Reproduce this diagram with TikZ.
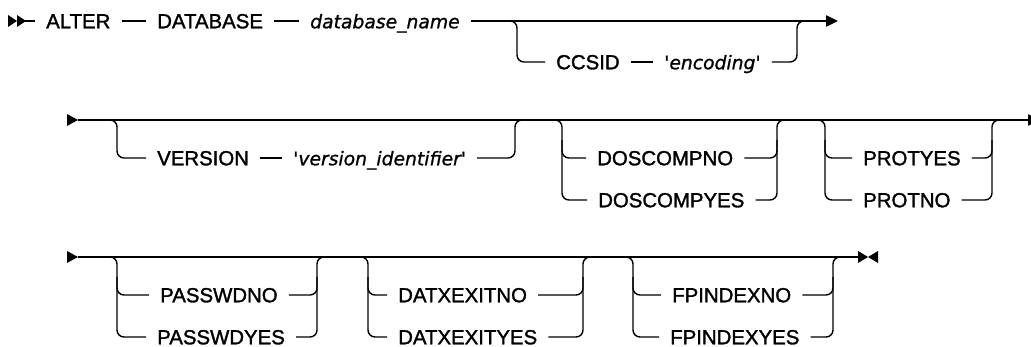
\documentclass[tikz,border=0pt]{standalone}
\usepackage{fontspec}
\newfontfamily\railfont[FakeBold=1.5]{Liberation Sans}
\newfontfamily\railvar[FakeBold=1]{DejaVu Sans}
\usetikzlibrary{arrows.meta}
\tikzset{
  rail/.style={black,line width=1.2pt,rounded corners=0.21cm},
  tip/.style={-{Triangle[length=0.36cm,width=0.34cm]}},
  kw/.style={anchor=west,inner xsep=0.33cm,inner ysep=1pt,text height=12.4pt,text depth=0pt,
    font=\railfont\fontsize{17.4}{20}\selectfont},
  var/.style={kw,font=\railvar\fontsize{16}{20}\selectfont\itshape},
}

\begin{document}
\begin{tikzpicture}[x=0.03cm,y=-0.03cm]
  \useasboundingbox (0,0) rectangle (1031,347);
  % row 1
  \fill (8,15) -- (17,21) -- (8,27) -- cycle (17,15) -- (26,21) -- (17,27) -- cycle;
  \coordinate (st1) at (25,21);
  \coordinate (end1) at (838,21);
  \node[kw] (alter) at (35,21) {ALTER};
  \node[kw] (db) at (146,21) {DATABASE};
  \node[var] (dbname) at (299,21) {database\_name};
  \node[kw] (ccsid) at (545,62) {CCSID};
  \node[var] (enc) at (653,62) {'encoding'};
  \draw[rail] (st1) -- (alter);
  \draw[rail] (alter) -- (db);
  \draw[rail] (db) -- (dbname);
  \draw[rail,tip] (dbname) -- (end1);
  \draw[rail] (505,21) -| (517,62) -- (ccsid);
  \draw[rail] (ccsid) -- (enc);
  \draw[rail] (enc) -| (797,21) -- (809,21);
  % row 2
  \fill (67,114) -- (78,120) -- (67,126) -- cycle;
  \coordinate (st2) at (78,120);
  \coordinate (end2) at (1040,120);
  \draw[rail,tip] (st2) -- (end2);
  \node[kw] (ver) at (146,158) {VERSION};
  \node[var] (verid) at (282,158) {'version\_identifier'};
  \draw[rail] (105,120) -| (117,158) -- (ver);
  \draw[rail] (ver) -- (verid);
  \draw[rail] (verid) -| (515,120) -- (527,120);
  % row 3
  \fill (67,251) -- (78,257) -- (67,263) -- cycle;
  \coordinate (st3) at (78,257);
  \coordinate (end3) at (858,257);
  \draw[rail] (st3) -- (end3);
  \fill (858,251) -- (868,257) -- (858,263) -- cycle (878,251) -- (868,257) -- (878,263) -- cycle;
  % option stacks
  \foreach \g/\y/\d/\r/\xa/\xb/\ta/\tb in {
      dos/120/562/777/597/598/DOSCOMPNO/DOSCOMPYES,
      prot/120/825/992/863/863/PROTYES/PROTNO,
      pw/257/117/317/160/157/PASSWDNO/PASSWDYES,
      datx/257/368/583/398/398/DATXEXITNO/DATXEXITYES,
      fpi/257/633/833/672/670/FPINDEXNO/FPINDEXYES}{
    \node[kw] (\g a) at (\xa-11,\y+38) {\ta};
    \node[kw] (\g b) at (\xb-11,\y+80) {\tb};
    \draw[rail] (\d-12,\y) -| (\d,\y+80) -- (\g b);
    \draw[rail] (\d,\y+20) |- (\g a);
    \draw[rail] (\g a) -| (\r,\y+20);
    \draw[rail] (\g b) -| (\r,\y) -- (\r+12,\y);
  }
\end{tikzpicture}
\end{document}
